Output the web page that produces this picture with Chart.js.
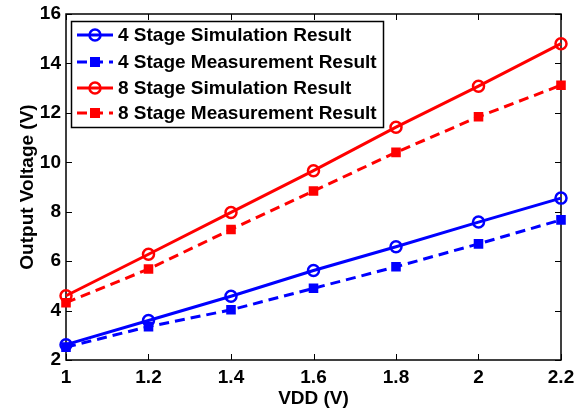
<!DOCTYPE html>
<html>
<head>
<meta charset="utf-8">
<script src="https://cdn.jsdelivr.net/npm/chart.js@4.4.1/dist/chart.umd.min.js"></script>
<style>
  html, body { margin: 0; padding: 0; background: #fff; }
  #wrap { width: 574px; height: 411px; }
</style>
</head>
<body>
<div id="wrap"><canvas id="vddChart" width="574" height="411"></canvas></div>
<script>
// VDD sweep (V)
const vdd = [1.0, 1.2, 1.4, 1.6, 1.8, 2.0, 2.2];

// output voltage (V)
const stage4Sim  = [2.62, 3.60, 4.58, 5.62, 6.58, 7.58, 8.55];
const stage4Meas = [2.52, 3.35, 4.03, 4.90, 5.77, 6.70, 7.67];
const stage8Sim  = [4.60, 6.28, 7.97, 9.66, 11.42, 13.08, 14.80];
const stage8Meas = [4.32, 5.68, 7.28, 8.84, 10.40, 11.84, 13.12];

const seriesLabels = [
    '4 Stage Simulation Result',
    '4 Stage Measurement Result',
    '8 Stage Simulation Result',
    '8 Stage Measurement Result'
];

const xTicks = [1, 1.2, 1.4, 1.6, 1.8, 2, 2.2];
const yTicks = [2, 4, 6, 8, 10, 12, 14, 16];

const FONT = { family: 'Liberation Sans, Arial, Helvetica, sans-serif', size: 19, weight: 'bold' };

function toPoints(ys) {
    return ys.map((y, i) => ({ x: vdd[i], y: y }));
}

function makeSet(label, ys, color, dashed) {
    return {
        label: label,
        data: toPoints(ys),
        borderColor: color,
        backgroundColor: dashed ? color : 'transparent',
        borderWidth: 3,
        borderDash: dashed ? [10, 6] : [],
        pointStyle: dashed ? 'rect' : 'circle',
        pointRadius: dashed ? 5 : 5.5,
        pointBorderWidth: 2.5,
        pointBorderColor: color,
        pointBackgroundColor: dashed ? color : 'transparent',
        tension: 0,
        clip: false
    };
}

// axes box + inward ticks, drawn under the lines like MATLAB
const boxPlugin = {
    id: 'boxPlugin',
    beforeDatasetsDraw(chart) {
        const { ctx, chartArea: a, scales } = chart;
        ctx.save();
        ctx.strokeStyle = '#000';
        ctx.lineWidth = 1;
        const tl = 6;
        ctx.beginPath();
        xTicks.forEach(v => {
            const px = Math.round(scales.x.getPixelForValue(v)) + 0.5;
            ctx.moveTo(px, a.bottom); ctx.lineTo(px, a.bottom - tl);
            ctx.moveTo(px, a.top); ctx.lineTo(px, a.top + tl);
        });
        yTicks.forEach(v => {
            const py = Math.round(scales.y.getPixelForValue(v)) + 0.5;
            ctx.moveTo(a.left, py); ctx.lineTo(a.left + tl, py);
            ctx.moveTo(a.right, py); ctx.lineTo(a.right - tl, py);
        });
        ctx.stroke();
        ctx.lineWidth = 1.5;
        ctx.strokeRect(a.left, a.top, a.right - a.left, a.bottom - a.top);
        ctx.restore();
    }
};

// boxed legend in the upper left, like the original figure
const legendPlugin = {
    id: 'legendPlugin',
    afterDraw(chart) {
        const ctx = chart.ctx;
        const bx = 71, by = 21, bw = 312, bh = 106;
        const rows = [35, 62, 88, 113];
        ctx.save();
        ctx.fillStyle = '#fff';
        ctx.fillRect(bx, by, bw, bh);
        ctx.strokeStyle = '#000';
        ctx.lineWidth = 1.5;
        ctx.strokeRect(bx + 0.5, by + 0.5, bw, bh);
        chart.data.datasets.forEach((ds, i) => {
            const y = rows[i];
            ctx.strokeStyle = ds.borderColor;
            ctx.lineWidth = 3;
            ctx.setLineDash(ds.borderDash || []);
            ctx.beginPath();
            ctx.moveTo(77, y);
            ctx.lineTo(113, y);
            ctx.stroke();
            ctx.setLineDash([]);
            ctx.lineWidth = 2.5;
            if (ds.pointStyle === 'rect') {
                ctx.fillStyle = ds.borderColor;
                ctx.fillRect(90, y - 5, 10, 10);
            } else {
                ctx.beginPath();
                ctx.arc(95, y, 5.5, 0, Math.PI * 2);
                ctx.stroke();
            }
            ctx.fillStyle = '#000';
            ctx.font = 'bold 19px ' + FONT.family;
            ctx.textBaseline = 'middle';
            ctx.textAlign = 'left';
            ctx.fillText(ds.label, 118, y + 1);
        });
        ctx.restore();
    }
};

new Chart(document.getElementById('vddChart').getContext('2d'), {
    type: 'line',
    data: {
        datasets: [
            makeSet(seriesLabels[0], stage4Sim, '#0000ff', false),
            makeSet(seriesLabels[1], stage4Meas, '#0000ff', true),
            makeSet(seriesLabels[2], stage8Sim, '#ff0000', false),
            makeSet(seriesLabels[3], stage8Meas, '#ff0000', true)
        ]
    },
    options: {
        responsive: false,
        animation: false,
        layout: { padding: { top: 14, right: 13, left: 0, bottom: 0 } },
        plugins: {
            legend: { display: false },
            tooltip: { enabled: false }
        },
        scales: {
            x: {
                type: 'linear',
                min: 1,
                max: 2.2,
                afterBuildTicks: s => { s.ticks = xTicks.map(v => ({ value: v })); },
                afterFit: s => { s.height = 51; s.paddingRight = 0; s.paddingLeft = 0; },
                grid: { display: false, drawTicks: false },
                border: { display: false },
                ticks: {
                    color: '#000',
                    font: FONT,
                    padding: 6,
                    maxRotation: 0,
                    autoSkip: false,
                    callback: v => String(+v.toFixed(1))
                },
                title: {
                    display: true,
                    text: 'VDD (V)',
                    color: '#000',
                    font: FONT,
                    padding: { top: 0, bottom: 1 }
                }
            },
            y: {
                min: 2,
                max: 16,
                afterBuildTicks: s => { s.ticks = yTicks.map(v => ({ value: v })); },
                afterFit: s => { s.width = 66; s.paddingTop = 0; s.paddingBottom = 0; },
                grid: { display: false, drawTicks: false },
                border: { display: false },
                ticks: { color: '#000', font: FONT, padding: 5, autoSkip: false },
                title: {
                    display: true,
                    text: 'Output Voltage (V)',
                    color: '#000',
                    font: FONT,
                    padding: { top: 16, bottom: 0 }
                }
            }
        }
    },
    plugins: [boxPlugin, legendPlugin]
});
</script>
</body>
</html>
